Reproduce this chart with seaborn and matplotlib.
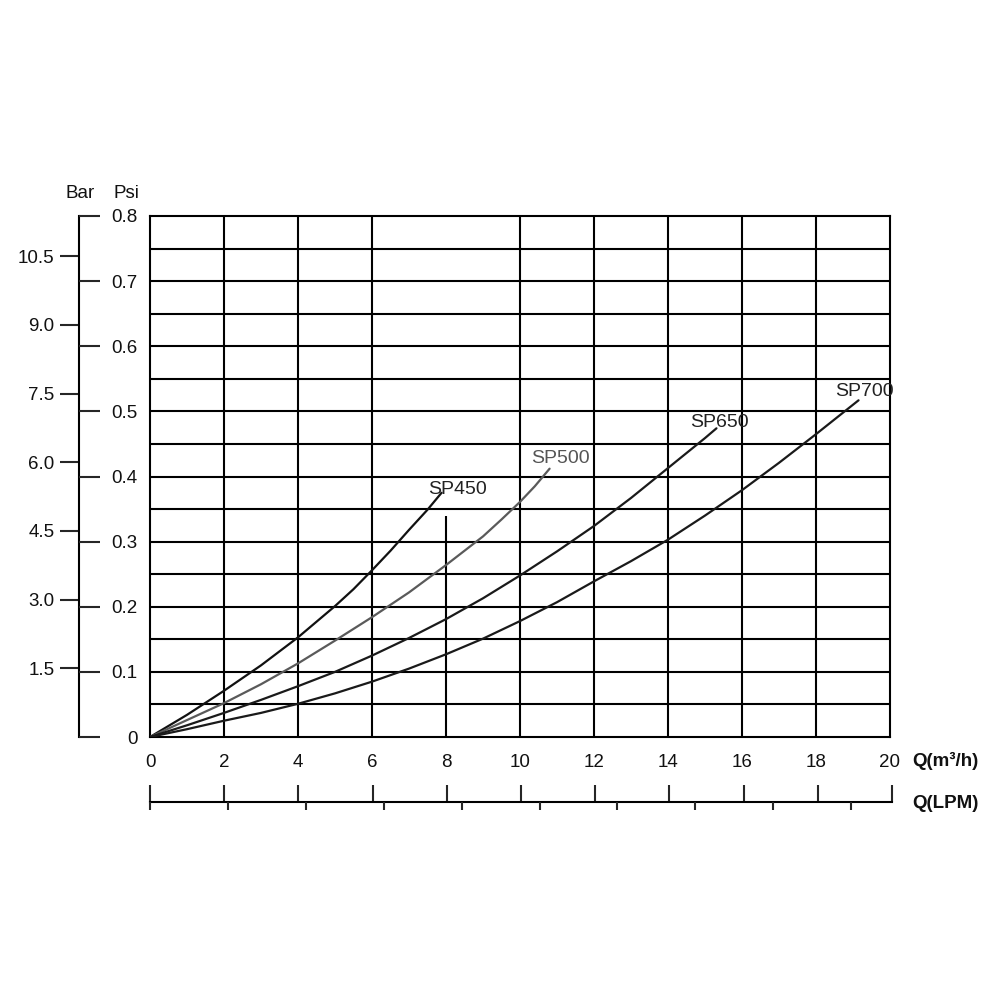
import numpy as np
import pandas as pd
import matplotlib
matplotlib.use("Agg")
import matplotlib.pyplot as plt
import seaborn as sns

# ---- data ----
models = ["SP450", "SP500", "SP650", "SP700"]
sp450_q = [0, 1, 2, 3, 4, 5, 5.5, 6, 6.5, 7, 7.5, 7.88]
sp450_p = [0, 0.034, 0.071, 0.11, 0.153, 0.201, 0.227, 0.256, 0.286, 0.318, 0.349, 0.375]
sp500_q = [0, 1, 2, 3, 4, 5, 6, 7, 8, 9, 9.5, 10, 10.4, 10.8]
sp500_p = [0, 0.026, 0.052, 0.081, 0.113, 0.148, 0.184, 0.222, 0.264, 0.308, 0.334, 0.361, 0.385, 0.412]
sp650_q = [0, 1, 2, 3, 4, 5, 6, 7, 8, 9, 10, 11, 12, 13, 14, 15, 15.31]
sp650_p = [0, 0.018, 0.037, 0.057, 0.078, 0.1, 0.125, 0.152, 0.181, 0.213, 0.248, 0.285, 0.324, 0.367, 0.413, 0.459, 0.474]
sp700_q = [0, 1, 2, 3, 4, 5, 6, 7, 8, 9, 10, 11, 12, 13, 14, 15, 16, 17, 18, 19.15]
sp700_p = [0, 0.012, 0.025, 0.037, 0.051, 0.067, 0.085, 0.105, 0.127, 0.151, 0.178, 0.207, 0.239, 0.27, 0.303, 0.34, 0.379, 0.421, 0.465, 0.517]

label_q = [8.3, 11.1, 15.4, 19.3]
label_p = [0.38, 0.428, 0.483, 0.531]

psi_ticks = [0, 0.1, 0.2, 0.3, 0.4, 0.5, 0.6, 0.7, 0.8]
psi_labels = ["0", "0.1", "0.2", "0.3", "0.4", "0.5", "0.6", "0.7", "0.8"]
psi_grid = [0.05, 0.1, 0.15, 0.2, 0.25, 0.3, 0.35, 0.4, 0.45, 0.5, 0.55, 0.6, 0.65, 0.7, 0.75]
bar_ticks = [1.5, 3.0, 4.5, 6.0, 7.5, 9.0, 10.5]
bar_labels = ["1.5", "3.0", "4.5", "6.0", "7.5", "9.0", "10.5"]
bar_max = 11.38
q_ticks = [0, 2, 4, 6, 8, 10, 12, 14, 16, 18, 20]
q_labels = ["0", "2", "4", "6", "8", "10", "12", "14", "16", "18", "20"]
q_grid_full = [2, 4, 6, 10, 12, 14, 16, 18]
q_grid_part = [8]
q_grid_part_top = 0.34
lpm_ticks = [0, 35, 70, 105, 140, 175, 210, 245, 280, 315]
lpm_max = 20 * 1000 / 60

colors = {"SP450": "#111111", "SP500": "#5a5a5a", "SP650": "#1a1a1a", "SP700": "#1a1a1a"}

df = pd.concat([
    pd.DataFrame({"q": sp450_q, "p": sp450_p, "model": "SP450"}),
    pd.DataFrame({"q": sp500_q, "p": sp500_p, "model": "SP500"}),
    pd.DataFrame({"q": sp650_q, "p": sp650_p, "model": "SP650"}),
    pd.DataFrame({"q": sp700_q, "p": sp700_p, "model": "SP700"}),
], ignore_index=True)

sns.set_theme(style="white")
plt.rcParams["font.family"] = ["Liberation Sans", "DejaVu Sans"]
plt.rcParams["font.size"] = 13.5

fig = plt.figure(figsize=(10, 10), dpi=100)
fig.patch.set_facecolor("white")

# main axes: x 150..890 px, y 737..216 px
ax = fig.add_axes([0.150, 0.263, 0.740, 0.521])
ax.set_xlim(0, 20)
ax.set_ylim(0, 0.8)

gl = dict(color="black", linewidth=1.5, zorder=1)
for y in psi_grid:
    ax.axhline(y, **gl)
for x in q_grid_full:
    ax.axvline(x, **gl)
ax.vlines(q_grid_part, 0, q_grid_part_top, **gl)

sns.lineplot(data=df, x="q", y="p", hue="model", palette=colors, estimator=None,
             sort=False, legend=False, linewidth=1.6, ax=ax, zorder=3)

for m, xq, yp in zip(models, label_q, label_p):
    ax.text(xq, yp, m, ha="center", va="center", fontsize=14,
            color=("#555555" if m == "SP500" else "#222222"), zorder=4)

ax.set_xticks(q_ticks)
ax.set_xticklabels(q_labels)
ax.set_yticks(psi_ticks)
ax.set_yticklabels(psi_labels)
ax.set_xlabel("")
ax.set_ylabel("")
ax.tick_params(axis="both", which="major", direction="out", length=7, width=1.5,
               color="black", labelsize=13.5, labelcolor="#111111")
ax.tick_params(axis="x", pad=5)
ax.tick_params(axis="y", pad=2)
for s in ax.spines.values():
    s.set_color("black")
    s.set_linewidth(1.5)
    s.set_visible(True)

# Bar axis (left), vertical line at x=79 px
axb = fig.add_axes([0.079, 0.263, 0.0001, 0.521])
axb2 = axb.twinx()
axb.set_ylim(0, bar_max)
axb.set_xticks([])
axb.set_yticks(bar_ticks)
axb.set_yticklabels(bar_labels)
axb.tick_params(axis="y", direction="out", length=13.5, width=1.5, pad=4,
                labelsize=13.5, labelcolor="#111111", left=True, right=False,
                labelleft=True, labelright=False)
for k, s in axb.spines.items():
    s.set_visible(k == "left")
axb.spines["left"].set_linewidth(1.5)
axb.spines["left"].set_color("black")
axb.patch.set_alpha(0)

axb2.set_ylim(0, 0.8)
axb2.set_yticks(psi_ticks)
axb2.set_yticklabels([])
axb2.tick_params(axis="y", direction="out", length=15, width=1.5, right=True, left=False)
for s in axb2.spines.values():
    s.set_visible(False)
axb2.patch.set_alpha(0)

# LPM axis at y=802 px
axl = fig.add_axes([0.150, 0.198, 0.742, 0.0001])
axl2 = axl.twiny()
axl.set_xlim(0, 20)
axl.set_yticks([])
axl.set_xticks(q_ticks)
axl.set_xticklabels([])
axl.tick_params(axis="x", direction="out", length=12.5, width=1.5,
                top=True, bottom=False, labeltop=False, labelbottom=False)
for k, s in axl.spines.items():
    s.set_visible(k == "bottom")
axl.spines["bottom"].set_linewidth(1.5)
axl.spines["bottom"].set_color("black")
axl.patch.set_alpha(0)

axl2.set_xlim(0, lpm_max)
axl2.set_xticks(lpm_ticks)
axl2.set_xticklabels([])
axl2.tick_params(axis="x", direction="out", length=6, width=1.5,
                 top=False, bottom=True, labeltop=False, labelbottom=False)
for s in axl2.spines.values():
    s.set_visible(False)
axl2.patch.set_alpha(0)

# axis titles
fig.text(0.080, 0.807, "Bar", ha="center", va="center", fontsize=13.5, color="#111111")
fig.text(0.126, 0.807, "Psi", ha="center", va="center", fontsize=13.5, color="#111111")
fig.text(0.912, 0.239, "Q(m³/h)", ha="left", va="center", fontsize=13.5, fontweight="bold", color="#111111")
fig.text(0.912, 0.197, "Q(LPM)", ha="left", va="center", fontsize=13.5, fontweight="bold", color="#111111")

fig.savefig("out.png", dpi=100, facecolor="white")
